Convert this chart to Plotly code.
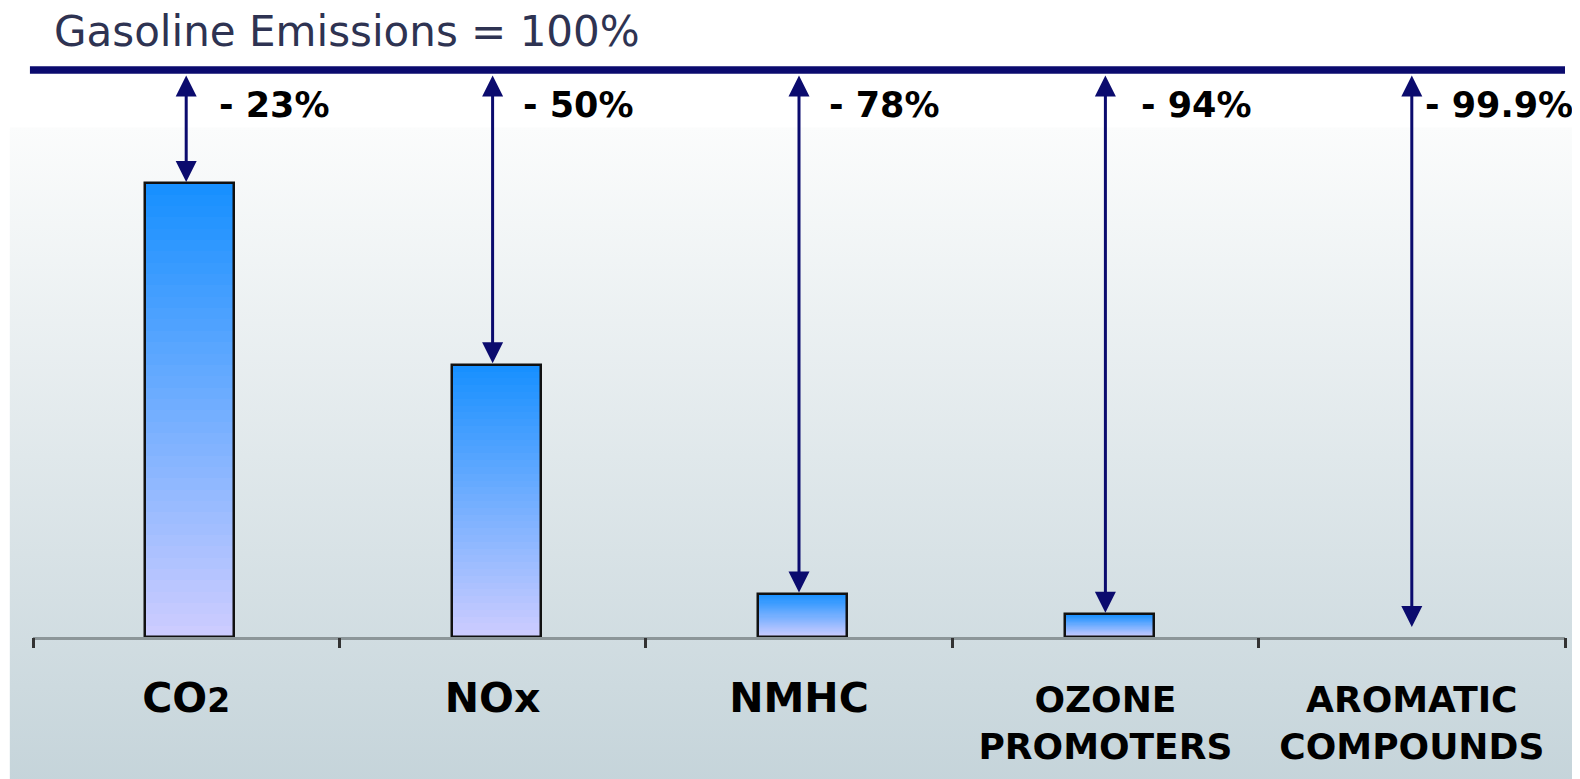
import base64
import plotly.graph_objects as go

# ---- data ----
categories = ["CO2", "NOx", "NMHC", "OZONE PROMOTERS", "AROMATIC COMPOUNDS"]
tick_labels = [
    "<span style='font-size:41px'>CO</span><span style='font-size:33px'>2</span>",
    "<span style='font-size:41px'>NOx</span>",
    "<span style='font-size:41px'>NMHC</span>",
    "OZONE<br>PROMOTERS",
    "AROMATIC<br>COMPOUNDS",
]
bar_heights = [80, 48, 7.6, 4.0, 0]          # drawn heights (gasoline = 100)
reduction_labels = ["- 23%", "- 50%", "- 78%", "- 94%", "- 99.9%"]
baseline_ref = 100

# ---- style / layout geometry (screen targets -> figure px) ----
OFF = 8            # browser body margin
SX, SY = 0.992, 0.994


def fx(t):
    return t / SX - OFF


def fy(t):
    return t / SY - OFF


W, H = round(fx(1580)), round(fy(779))
ML, MT = fx(33), fy(70)
MR = W - fx(1552)
MB = H - fy(633)
PW, PH = W - ML - MR, H - MT - MB
NAVY = "#0b0b6e"
TOP_C = (24, 144, 255)
BOT_C = (204, 204, 255)
N = 40
label_shift = [31, 28, 28, 34, 11]

fig = go.Figure()
idx = list(range(len(categories)))

for k in range(N):
    t = k / (N - 1)
    c = tuple(round(TOP_C[j] + (BOT_C[j] - TOP_C[j]) * t) for j in range(3))
    fig.add_trace(go.Bar(
        x=idx, y=[v * (N - k) / N for v in bar_heights], width=0.29, offset=-0.133,
        marker=dict(color="rgb(%d,%d,%d)" % c, line=dict(width=0)),
        hoverinfo="skip", showlegend=False))

fig.add_trace(go.Bar(
    x=idx, y=bar_heights, width=0.29, offset=-0.133,
    marker=dict(color="rgba(0,0,0,0)",
                line=dict(color="#111111", width=[2.5 if v > 0 else 0 for v in bar_heights])),
    showlegend=False, hovertemplate="%{y}<extra></extra>"))

# background gradient image
gx, gy = max(fx(10), 0), fy(127)
svg = (
    "<svg xmlns='http://www.w3.org/2000/svg' width='%d' height='%d' viewBox='0 0 %d %d' preserveAspectRatio='none'>"
    "<defs><linearGradient id='g' x1='0' y1='0' x2='0' y2='1'>"
    "<stop offset='0' stop-color='#fbfcfc'/><stop offset='1' stop-color='#c5d4da'/>"
    "</linearGradient></defs>"
    "<rect width='%d' height='%d' fill='#ffffff'/>"
    "<rect x='%.1f' y='%.1f' width='%.1f' height='%.1f' fill='url(#g)'/></svg>"
) % (W, H, W, H, W, H, gx, gy, W - gx, H - gy)
src = "data:image/svg+xml;base64," + base64.b64encode(svg.encode()).decode()

fig.add_layout_image(dict(
    source=src, xref="paper", yref="paper",
    x=-ML / PW, y=1 + MT / PH, sizex=W / PW, sizey=H / PH,
    xanchor="left", yanchor="top", sizing="stretch", layer="below"))

annotations = []
for i, (v, lab) in enumerate(zip(bar_heights, reduction_labels)):
    annotations.append(dict(
        x=i, y=v, ax=i, ay=baseline_ref, xref="x", yref="y", axref="x", ayref="y",
        text="", showarrow=True, arrowside="end+start", arrowhead=2, startarrowhead=2,
        arrowsize=1.4, startarrowsize=1.4, arrowwidth=3, arrowcolor=NAVY,
        standoff=(10 if v < 1 else 1.5), startstandoff=4))
    annotations.append(dict(
        x=i, y=93.8, xref="x", yref="y", text="<b>%s</b>" % lab, showarrow=False,
        xanchor="left", yanchor="middle", xshift=label_shift[i],
        font=dict(family="DejaVu Sans", size=35, color="#000000")))

annotations.append(dict(
    x=0, y=1 + 38 / PH, xref="paper", yref="paper", xanchor="left", yanchor="middle",
    xshift=19, text="Gasoline Emissions = 100%", showarrow=False,
    font=dict(family="DejaVu Sans", size=42, color="#2e3352")))

fig.update_layout(
    width=W, height=H, margin=dict(l=ML, r=MR, t=MT, b=MB, autoexpand=False),
    paper_bgcolor="#ffffff", plot_bgcolor="rgba(0,0,0,0)",
    barmode="overlay", bargap=0, showlegend=False,
    annotations=annotations,
    shapes=[dict(type="line", xref="paper", yref="paper", x0=-0.002, x1=1, y0=1, y1=1,
                 line=dict(color=NAVY, width=7.5))],
    xaxis=dict(type="linear", range=[-0.5, 4.5], tickmode="array", tickvals=idx, ticktext=tick_labels,
               showgrid=False, zeroline=False, showline=True, linecolor="#8c9699", linewidth=3,
               ticks="", tickfont=dict(family="DejaVu Sans", size=36, color="#000000", weight="bold"),
               ticklabelstandoff=29, automargin=False, fixedrange=True),
    yaxis=dict(range=[0, 100], visible=False, automargin=False, fixedrange=True),
)
# boundary ticks between categories
fig.update_layout(xaxis2=dict(overlaying="x", range=[-0.5, 4.5], side="bottom", anchor="y",
                              tickmode="array", tickvals=[-0.5, 0.5, 1.5, 2.5, 3.5, 4.5],
                              ticks="outside", ticklen=10, tickwidth=2.5, tickcolor="#333333",
                              showticklabels=False, showgrid=False, zeroline=False, showline=False,
                              automargin=False, fixedrange=True))
fig.add_trace(go.Scatter(x=[0], y=[0], xaxis="x2", mode="markers", marker=dict(opacity=0),
                         hoverinfo="skip", showlegend=False))

fig.write_html("out.html")
